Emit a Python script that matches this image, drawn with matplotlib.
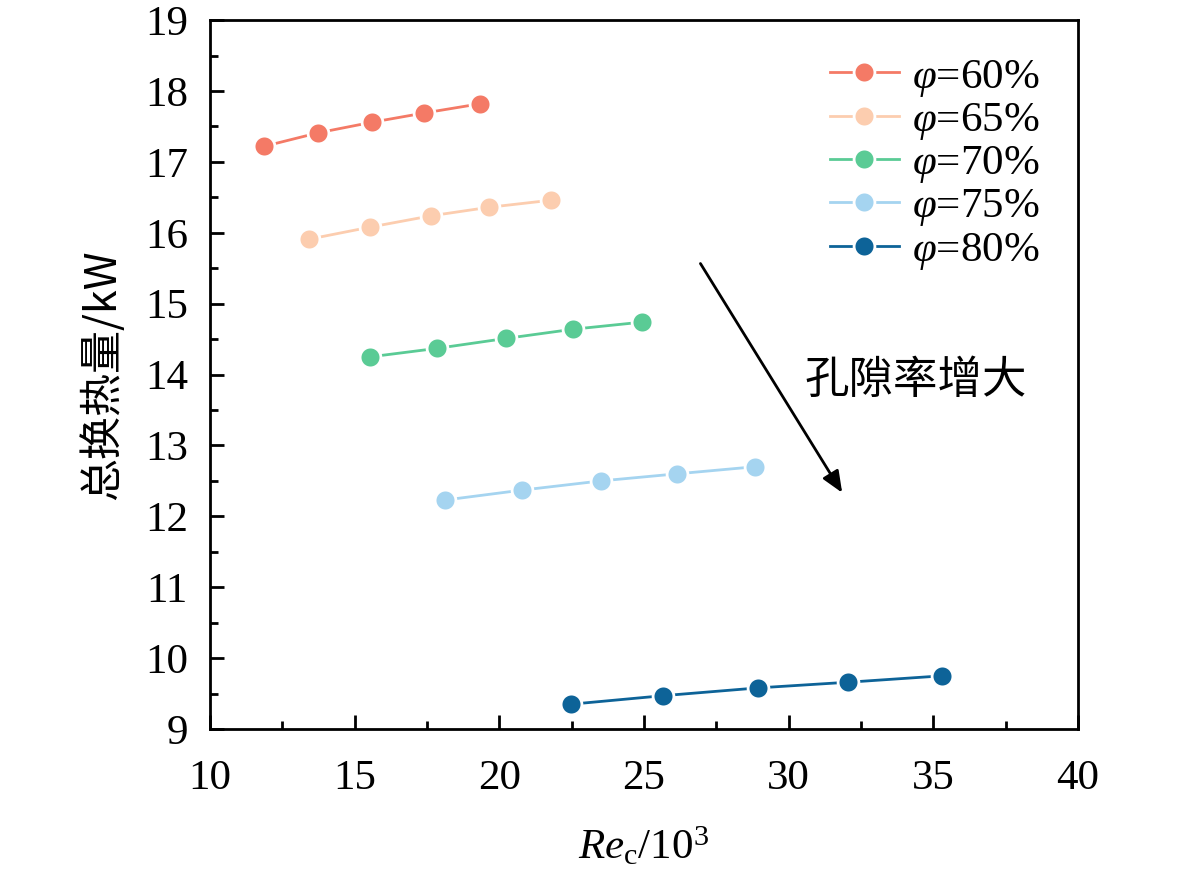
import matplotlib
matplotlib.use('Agg')
import matplotlib.pyplot as plt

plt.rcParams['font.family'] = ['Liberation Serif', 'Noto Sans CJK SC']
plt.rcParams['mathtext.fontset'] = 'custom'
plt.rcParams['mathtext.rm'] = 'Liberation Serif'
plt.rcParams['mathtext.it'] = 'Liberation Serif:italic'

# data
labels = [r'$\varphi$=60%', r'$\varphi$=65%', r'$\varphi$=70%', r'$\varphi$=75%', r'$\varphi$=80%']
colors = ['#F47A66', '#FCCDAF', '#5ACB95', '#A5D4F0', '#0D6398']

re_60 = [11.87, 13.73, 15.60, 17.40, 19.33]
q_60 = [17.22, 17.41, 17.56, 17.69, 17.82]
re_65 = [13.42, 15.53, 17.64, 19.64, 21.79]
q_65 = [15.91, 16.08, 16.24, 16.36, 16.46]
re_70 = [15.53, 17.85, 20.23, 22.55, 24.93]
q_70 = [14.25, 14.37, 14.51, 14.64, 14.74]
re_75 = [18.12, 20.78, 23.51, 26.14, 28.84]
q_75 = [12.23, 12.37, 12.50, 12.60, 12.70]
re_80 = [22.48, 25.66, 28.94, 32.05, 35.30]
q_80 = [9.35, 9.47, 9.58, 9.66, 9.75]

xs = [re_60, re_65, re_70, re_75, re_80]
ys = [q_60, q_65, q_70, q_75, q_80]

fig = plt.figure(figsize=(11.82, 8.76), dpi=100)
ax = fig.add_axes([0.1777, 0.1678, 0.7343, 0.8092])

for x, y, c, lab in zip(xs, ys, colors, labels):
    ax.plot(x, y, '-o', color=c, lw=2, ms=15, mec='white', mew=2, label=lab)

ax.set_xlim(10, 40)
ax.set_ylim(9, 19)
ax.set_xticks([10, 15, 20, 25, 30, 35, 40])
ax.set_xticks([12.5, 17.5, 22.5, 27.5, 32.5, 37.5], minor=True)
ax.set_yticks(range(9, 20))
ax.set_yticks([9.5 + i for i in range(10)], minor=True)
ax.tick_params(which='major', direction='in', length=10, width=2, labelsize=31)
ax.tick_params(axis='y', which='major', pad=16)
ax.tick_params(axis='x', which='major', pad=22)
ax.tick_params(which='minor', direction='in', length=6, width=2)
for s in ax.spines.values():
    s.set_linewidth(2)

ax.set_xlabel(r'$\mathit{Re}_\mathrm{c}$/10$^\mathrm{3}$', fontsize=31, labelpad=20)
ax.set_ylabel('总换热量/kW', fontsize=31, labelpad=14,
              family=['Noto Sans CJK SC', 'Liberation Serif'])

ax.annotate('', xy=(31.9, 12.3), xytext=(26.9, 15.6),
            arrowprops=dict(arrowstyle='-|>,head_length=1.3,head_width=0.55',
                            color='black', lw=2))
ax.text(30.55, 13.92, '孔隙率增大', fontsize=32, va='center',
        family=['Noto Sans CJK SC'])

ax.legend(loc='upper right', fontsize=31, frameon=False, handlelength=1.6,
          handletextpad=0.3, labelspacing=0.05, borderaxespad=0.3,
          bbox_to_anchor=(0.99, 0.99))

fig.savefig('out.png')
